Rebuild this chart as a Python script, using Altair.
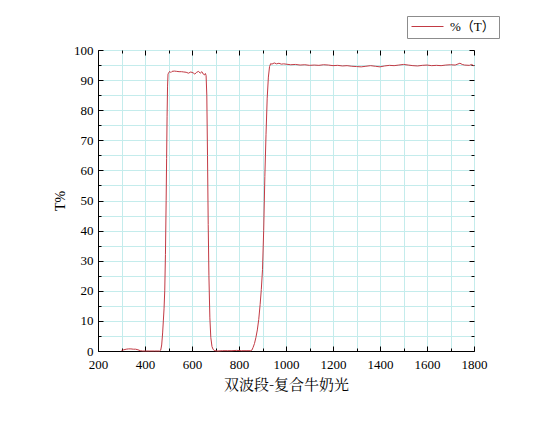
import altair as alt
import pandas as pd

# ---- data ----
wavelength = [300, 310, 320, 330, 340, 350, 360, 370, 380, 390, 400, 420, 440, 455, 462,
              467, 471, 475, 478, 481, 484, 487, 490, 492, 494, 496, 498, 500, 505, 510,
              515, 525, 535, 545, 555, 565, 575, 585, 595, 605, 612, 620, 628, 635, 642,
              648, 653, 657, 660, 663, 666, 669, 672, 676, 680, 685, 690, 697, 710, 730,
              750, 770, 790, 810, 830, 850, 855, 860, 866, 872, 878, 884, 890, 895, 900,
              905, 910, 915, 920, 925, 930, 935, 940, 950, 960, 970, 980, 990, 1000, 1020,
              1040, 1060, 1080, 1100, 1120, 1140, 1160, 1180, 1200, 1220, 1240, 1260, 1280,
              1300, 1320, 1340, 1360, 1380, 1400, 1420, 1440, 1460, 1480, 1500, 1520, 1540,
              1560, 1580, 1600, 1620, 1640, 1660, 1680, 1700, 1720, 1740, 1750, 1760, 1780,
              1790, 1800]
transmittance = [0.2, 0.4, 0.6, 0.7, 0.7, 0.6, 0.6, 0.4, 0.1, 0.0, 0.0, 0.0, 0.0, 0.0, 0.0,
                 0.3, 2.0, 6.0, 10.0, 14.0, 20.0, 32.0, 50.0, 64.0, 78.0, 88.0, 92.0, 92.3, 92.9, 92.5,
                 92.9, 93.0, 92.9, 92.8, 92.8, 92.7, 92.6, 92.3, 92.7, 92.4, 92.0, 92.6, 92.9, 92.3, 92.8,
                 92.0, 91.7, 92.2, 91.5, 85.0, 65.0, 42.0, 25.0, 11.0, 4.5, 1.5, 0.5, 0.1, 0.0, 0.1,
                 0.1, 0.1, 0.2, 0.1, 0.1, 0.1, 0.3, 1.2, 2.5, 4.5, 7.0, 10.5, 15.5, 20.5, 27.0,
                 40.0, 58.0, 72.0, 84.0, 91.0, 94.5, 95.5, 95.3, 95.7, 95.4, 95.6, 95.3, 95.4, 95.3, 95.1,
                 95.2, 95.0, 95.1, 94.9, 95.0, 94.9, 95.1, 95.0, 94.8, 94.9, 94.7, 94.8, 94.6,
                 94.5, 94.4, 94.6, 94.8, 94.6, 94.4, 94.7, 94.9, 94.8, 95.0, 95.2, 95.0, 94.8,
                 94.7, 94.9, 95.0, 94.8, 94.9, 94.8, 95.0, 95.1, 95.0, 95.6, 95.2, 95.0, 94.9,
                 95.2, 94.7]
x_ticks = list(range(200, 1801, 100))
y_ticks = list(range(0, 101, 5))
series_name = "%（T）"
x_title = "双波段-复合牛奶光"
y_title = "T%"

df = pd.DataFrame({"wl": wavelength, "T": transmittance, "series": series_name})

W, H = 376, 301
SERIF = "Liberation Serif"
LEGEND_FONT = "Liberation Serif, Noto Sans CJK SC"
CJK = "Noto Serif CJK SC, Noto Sans CJK SC"
RED = "#c23a44"
GRID = "#c4ecec"

xscale = alt.Scale(domain=[200, 1800], nice=False, zero=False)
yscale = alt.Scale(domain=[0, 100], nice=False, zero=False)

x_tick_size = {"condition": {"test": "datum.value % 200 === 0", "value": 5}, "value": 3}
y_tick_size = {"condition": {"test": "datum.value % 10 === 0", "value": 5}, "value": 3}

main = alt.Chart(df).mark_line(strokeWidth=1).encode(
    x=alt.X("wl:Q", scale=xscale, axis=alt.Axis(
        orient="bottom", values=x_ticks, format="d",
        labelExpr="datum.value % 200 === 0 ? datum.label : ''",
        ticks=False, grid=True, gridColor=GRID, gridWidth=1,
        domain=True, domainColor="black", domainWidth=1,
        labelFont=SERIF, labelFontSize=13, labelColor="black", labelPadding=7,
        labelFlush=False, labelOverlap=False,
        title=x_title, titleFont=CJK, titleFontSize=15, titleFontWeight="normal",
        titleColor="black", titlePadding=6)),
    y=alt.Y("T:Q", scale=yscale, axis=alt.Axis(
        orient="left", values=y_ticks, format="d",
        labelExpr="datum.value % 10 === 0 ? datum.label : ''",
        ticks=False, grid=True, gridColor=GRID, gridWidth=1,
        domain=True, domainColor="black", domainWidth=1,
        labelFont=SERIF, labelFontSize=13, labelColor="black", labelPadding=5,
        labelFlush=False, labelOverlap=False,
        title=y_title, titleFont=SERIF, titleFontSize=14, titleFontWeight="normal",
        titleColor="black", titlePadding=6)),
    color=alt.Color("series:N", scale=alt.Scale(range=[RED]), legend=alt.Legend(
        title=None, orient="none", legendX=309, legendY=-34,
        strokeColor="#8c8c8c", fillColor="white", padding=4, cornerRadius=0,
        symbolType="stroke", symbolSize=1024, symbolStrokeWidth=1, clipHeight=13,
        labelFont=LEGEND_FONT, labelFontSize=13, labelColor="black", labelOffset=6)),
)


def x_tick_layer(orient, offset):
    return alt.Chart(df).mark_line(opacity=0).encode(
        x=alt.X("wl:Q", scale=xscale, axis=alt.Axis(
            orient=orient, offset=offset, values=x_ticks, labels=False, grid=False,
            domain=False, ticks=True, tickSize=x_tick_size, tickColor="black",
            tickWidth=1, title=None)),
        y=alt.Y("T:Q", scale=yscale, axis=None),
    )


def y_tick_layer(orient, offset):
    return alt.Chart(df).mark_line(opacity=0).encode(
        x=alt.X("wl:Q", scale=xscale, axis=None),
        y=alt.Y("T:Q", scale=yscale, axis=alt.Axis(
            orient=orient, offset=offset, values=y_ticks, labels=False, grid=False,
            domain=False, ticks=True, tickSize=y_tick_size, tickColor="black",
            tickWidth=1, title=None)),
    )


chart = alt.layer(
    main,
    x_tick_layer("top", -H),      # ticks on bottom edge pointing up
    x_tick_layer("bottom", -H),   # ticks on top edge pointing down
    y_tick_layer("right", -W),    # ticks on left edge pointing right
    y_tick_layer("left", -W),     # ticks on right edge pointing left
).resolve_axis(x="independent", y="independent").properties(
    width=W, height=H,
    autosize=alt.AutoSizeParams(type="none"),
    padding={"left": 90, "top": 42, "right": 68, "bottom": 62},
).configure_view(stroke="black", strokeWidth=1).configure(background="white")

chart.save("out.html", embed_options={"renderer": "svg", "actions": False})
